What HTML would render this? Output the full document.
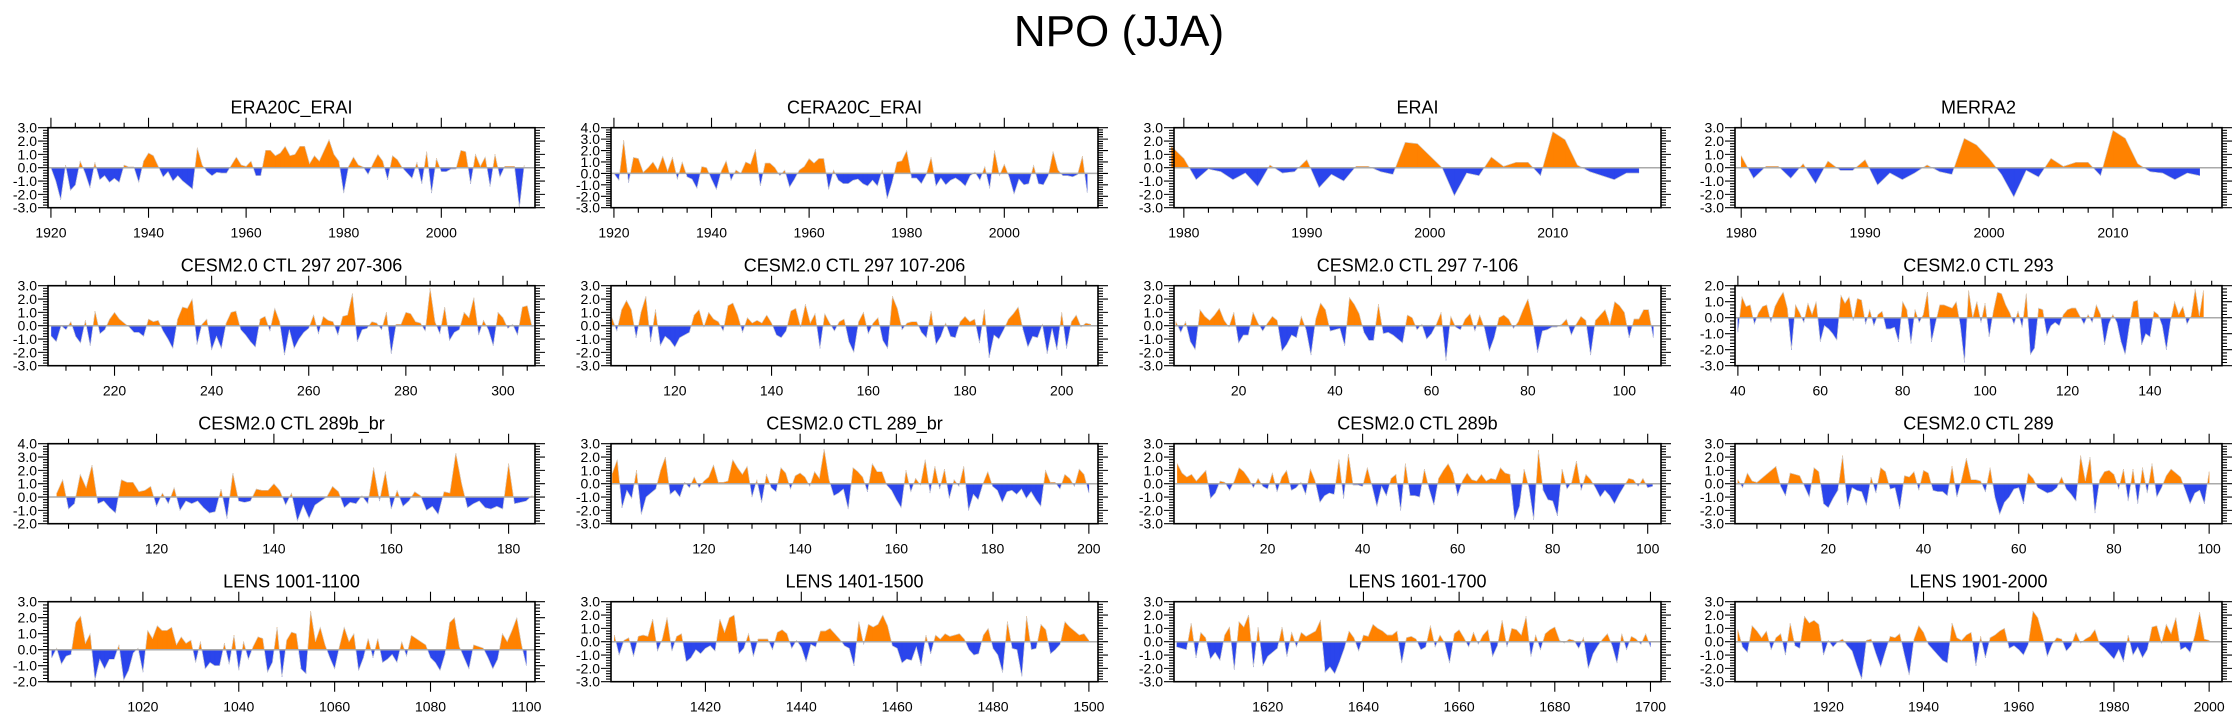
<!DOCTYPE html>
<html><head><meta charset="utf-8"><style>
html,body{margin:0;padding:0;background:#fff;}
svg{display:block;font-family:"Liberation Sans",Arial,sans-serif;}
</style></head><body>
<svg id="chart" width="2238" height="719" viewBox="0 0 2238 719" xmlns="http://www.w3.org/2000/svg">
<rect width="2238" height="719" fill="#fff"/>
<text x="1119" y="46" text-anchor="middle" font-size="44">NPO (JJA)</text>
</svg>
<script>
// ---- data ----
const titles = ["ERA20C_ERAI","CERA20C_ERAI","ERAI","MERRA2",
"CESM2.0 CTL 297 207-306","CESM2.0 CTL 297 107-206","CESM2.0 CTL 297 7-106","CESM2.0 CTL 293",
"CESM2.0 CTL 289b_br","CESM2.0 CTL 289_br","CESM2.0 CTL 289b","CESM2.0 CTL 289",
"LENS 1001-1100","LENS 1401-1500","LENS 1601-1700","LENS 1901-2000"];
const startYears = [1920,1920,1979,1980,207,107,7,40,103,101,1,1,1001,1401,1601,1901];
const yMins = [-3,-3,-3,-3,-3,-3,-3,-3,-2,-3,-3,-3,-2,-3,-3,-3];
const yMaxs = [3,4,3,3,3,3,3,2,4,3,3,3,3,3,3,3];
const xMins = [1919.4,1919.4,1979.2,1979.5,206.3,106.8,6.6,39.3,101.5,100.7,0.3,0.4,1000.2,1400.3,1600.4,1900.4];
const xMaxs = [2019.2,2019.2,2018.8,2018.8,306.6,207.5,107.6,157.5,184.5,201.9,102.8,102.7,1101.8,1501.9,1702.2,2002.7];
const xLabels = [
[1920,1940,1960,1980,2000],[1920,1940,1960,1980,2000],[1980,1990,2000,2010],[1980,1990,2000,2010],
[220,240,260,280,300],[120,140,160,180,200],[20,40,60,80,100],[40,60,80,100,120,140],
[120,140,160,180],[120,140,160,180,200],[20,40,60,80,100],[20,40,60,80,100],
[1020,1040,1060,1080,1100],[1420,1440,1460,1480,1500],[1620,1640,1660,1680,1700],[1920,1940,1960,1980,2000]];
const xMinorSteps = [5,5,2,2,5,5,5,5,5,5,5,5,5,5,5,5];

const sEra20c = [0,-1.0,-2.4,0.2,-1.7,-1.3,0.5,-0.4,-1.5,0.4,-0.9,-0.6,-1.1,-0.8,-1.1,0.2,0.05,0.05,-1.1,0.5,1.1,0.9,0.1,-0.7,-0.3,-1.0,-0.6,-1.0,-1.3,-1.6,1.5,0.2,-0.3,-0.6,-0.35,-0.4,-0.4,0.2,0.8,0.2,0.1,0.5,-0.6,-0.6,1.3,1.3,0.9,1.1,1.6,0.9,1.0,1.6,1.6,0.3,0.9,0.5,1.3,2.1,1.0,0.5,-1.9,0.1,0.8,0.2,0.05,-0.5,0.3,1.0,0.5,-0.9,0.9,0.6,0.0,-0.4,-0.8,0.4,-1.2,1.2,-1.9,0.7,-0.3,-0.3,-0.1,-0.1,1.3,1.2,-1.2,1.0,0.1,0.8,-1.4,1.0,-0.7,0.1,0.1,0.1,-3.0,0.2];
const sCera20c = [0,-0.6,2.9,-0.8,1.4,1.3,0.1,0.5,1.0,0.3,1.5,0.2,1.4,-0.5,1.0,-0.3,-0.5,-1.3,0.6,0.5,-0.5,-1.4,0.2,1.1,-0.6,0.3,0.0,1.0,0.8,2.1,-1.1,0.9,0.9,0.5,-0.2,0.3,-1.2,-0.5,0.3,0.6,1.3,0.9,1.3,1.3,-1.4,0.3,-0.6,-0.9,-0.9,-0.6,-0.5,-0.9,-1.1,-0.6,-1.1,0.3,-2.2,-0.8,1.0,1.1,2.0,-0.4,-0.4,-0.9,-0.1,1.4,-1.1,-0.4,-1.0,-0.6,-0.4,-0.7,-1.1,-0.2,0.1,-0.6,0.6,-1.3,2.0,-0.2,0.8,-0.3,-1.8,-0.5,-1.0,-0.9,0.7,-0.9,-1.0,-0.2,1.9,0.3,-0.2,-0.2,-0.3,-0.1,1.5,-1.7];
const sErai = [1.6,0.7,-0.9,-0.1,-0.3,-0.9,-0.4,-1.4,0.2,-0.4,-0.3,0.6,-1.5,-0.5,-1.0,0.1,0.1,-0.3,-0.5,1.9,1.8,0.9,0.0,-2.1,-0.4,-0.6,0.8,0.1,0.4,0.4,-0.6,2.7,2.1,0.2,-0.3,-0.6,-0.9,-0.4,-0.4];
const sMerra2 = [0.9,-0.8,0.1,0.1,-0.8,0.3,-1.2,0.5,-0.2,-0.2,0.6,-1.3,-0.4,-0.9,-0.4,0.2,-0.3,-0.5,2.2,1.7,0.7,-0.5,-2.2,-0.2,-0.7,0.7,0.1,0.4,0.4,-0.6,2.8,2.2,0.3,-0.3,-0.4,-0.9,-0.4,-0.6];
const sCtl297a = [-0.8,-1.2,0.0,-0.3,0.3,-0.8,-1.3,0.4,-1.5,1.1,-0.6,-0.3,0.5,1.0,0.5,0.2,-0.1,-0.5,-0.5,-0.8,0.5,0.3,0.4,-0.4,-1.0,-1.7,0.5,1.4,1.3,2.0,-1.4,0.1,0.5,-1.8,-0.8,-1.7,0.2,1.0,1.1,-0.3,-0.7,-1.2,-1.6,0.5,0.7,-0.4,1.3,0.3,-2.2,-0.3,-1.7,-1.0,-0.5,-0.2,0.8,-0.6,0.7,0.4,0.3,-0.7,0.7,0.8,2.4,-1.2,-0.3,-0.2,0.3,0.2,-0.3,1.0,-2.1,0.1,0.1,1.0,0.9,0.3,0.2,-0.4,2.8,0.3,-0.6,1.4,-1.1,-0.5,-0.3,1.0,0.6,2.1,-0.7,0.4,-0.3,-1.5,1.0,0.6,-0.2,0.1,-0.7,1.4,1.5,-0.1];
const sCtl297b = [0.6,-0.4,1.2,1.9,1.2,-0.9,1.0,2.2,-1.2,1.2,-1.5,-0.8,-1.1,-1.6,-0.9,-0.7,-0.5,0.8,1.2,-0.1,1.0,0.5,0.3,-0.4,1.5,1.7,0.8,-0.5,0.6,0.2,0.4,0.2,0.8,0.2,-0.7,-0.9,-0.4,1.1,1.3,-0.1,1.6,0.2,0.9,-1.7,0.9,0.2,-0.4,0.3,0.5,-1.2,-2.0,0.3,1.0,-0.6,0.2,0.6,-1.1,-1.7,2.2,1.3,-0.3,0.2,0.3,0.3,-0.5,-0.9,1.1,-1.4,-0.8,0.2,-0.8,-0.9,0.3,0.7,0.3,0.5,-1.3,1.2,-2.4,-0.7,-1.0,-0.3,0.5,0.9,1.4,-0.3,-1.6,-0.8,-0.9,0.1,-2.1,-0.2,-1.8,1.0,-1.7,0.3,0.8,-0.1,0.2,0.1];
const sCtl297c = [0.3,-0.5,0.3,-1.2,-1.8,1.2,0.7,0.4,0.8,1.3,0.4,-0.1,1.0,-1.3,-0.7,-0.7,1.0,0.2,-0.4,0.2,0.7,0.4,-1.9,-1.4,-0.7,-0.9,0.7,-0.3,-2.2,0.5,1.7,1.2,-0.4,-0.3,-0.2,-1.5,2.1,1.6,0.9,-0.5,-1.1,-1.1,1.6,-0.6,-0.5,-0.7,-1.0,-1.3,0.8,0.6,-0.3,0.1,-1.0,-0.6,0.1,1.0,-2.6,0.7,-0.1,-0.3,0.5,0.9,-0.4,0.8,-0.2,-1.9,-0.9,0.6,0.8,0.5,-0.2,0.3,1.2,2.0,0.4,-2.0,-0.4,-0.3,-0.1,-0.1,0.1,0.5,-0.7,0.1,0.7,0.4,-2.2,0.4,0.8,1.2,0.1,1.8,1.5,1.0,-0.9,0.5,0.5,1.2,1.2,-0.9];
const sCtl293 = [-0.9,1.3,0.7,0.8,-0.4,0.3,0.7,0.8,-0.3,0.7,1.2,1.6,0.6,-2.0,0.8,0.3,-0.3,0.9,0.2,1.0,-1.5,-0.5,-0.7,-1.0,-1.4,1.4,0.9,1.3,-0.2,1.2,1.1,-0.4,0.5,-0.5,0.2,0.4,-0.7,-0.7,-0.6,-1.5,1.0,0.5,-1.6,0.5,-0.3,0.2,1.6,-1.5,-0.3,0.8,0.8,0.7,0.6,1.0,-0.5,-2.8,1.7,0.0,1.0,-0.3,0.9,-1.2,0.4,1.6,1.5,0.8,0.3,-0.4,0.4,-0.6,1.5,-2.3,-1.9,0.6,0.5,-1.1,-0.5,-0.3,-0.5,0.2,0.5,0.6,0.6,0.1,-0.4,0.2,-0.3,0.8,0.2,-1.7,-0.4,0.2,-0.3,-1.5,-2.3,-0.5,1.0,1.1,-1.7,-1.0,-1.2,0.4,0.2,-0.5,-2.0,-0.2,1.0,0.2,0.7,-0.4,0.1,1.8,0.1,1.7];
const sCtl289bbr = [0.3,1.3,-0.9,-0.5,1.7,0.7,2.4,-0.5,-0.3,-0.8,-1.2,1.3,1.1,1.1,0.4,0.5,0.8,-0.7,0.3,-0.5,0.7,-1.0,-0.3,-0.5,-0.3,-0.8,-1.2,-1.1,0.6,-1.6,1.8,-0.3,-0.4,-0.3,0.6,0.5,0.5,1.0,0.5,-0.6,0.3,-1.8,-0.6,-1.6,-0.6,-0.3,0.0,0.8,0.4,-0.8,-0.4,-0.5,0.1,-0.5,2.2,-0.3,1.9,-0.9,0.5,-0.7,-0.3,0.4,0.1,-1.0,-0.7,-1.3,0.4,0.3,3.3,1.0,-0.8,-0.5,-0.3,-0.8,-0.9,-0.7,-0.9,2.5,-0.5,-0.4,-0.3,0.1];
const sCtl289br = [0.8,1.8,-1.8,-0.5,-1.1,1.0,-2.3,-1.0,-0.7,-0.4,1.0,2.0,-0.8,-0.5,-1.0,0.1,-0.3,0.5,-0.3,0.2,0.5,1.4,0.1,0.1,0.2,1.8,1.2,0.7,1.3,-1.0,0.3,-1.4,0.7,-0.3,-0.6,1.2,0.8,-0.4,0.6,0.8,0.5,-0.2,0.9,0.4,2.6,0.3,-0.9,-0.7,-0.4,-1.9,1.2,0.9,0.5,-0.6,1.5,0.9,0.9,-0.1,-0.5,-1.2,-1.8,1.0,-0.6,0.4,-0.1,1.8,-0.7,1.3,-0.4,1.1,-1.1,0.3,-0.2,1.3,-2.0,-0.8,-1.2,0.0,0.9,-0.2,-0.5,-1.4,-0.6,-0.5,-0.8,-0.4,-1.1,-0.6,-1.2,-1.7,1.0,0.1,0.1,-0.4,0.7,0.4,-0.2,1.1,0.7,-0.7];
const sCtl289b = [1.5,0.8,0.5,0.7,0.2,0.6,1.0,-1.1,-0.7,0.2,0.1,-0.5,0.2,1.2,0.9,0.4,-0.3,0.4,-0.2,-0.4,0.8,-0.6,0.5,1.0,-0.5,-0.3,0.1,-0.8,1.1,0.2,-1.4,-0.9,-0.7,-0.8,1.8,-1.1,2.2,-0.1,-0.1,-0.2,1.2,-0.2,-1.7,-0.2,-0.9,0.4,0.7,-2.0,1.5,-0.9,-0.9,-1.0,1.1,-0.4,-1.6,0.4,1.0,1.5,0.8,-0.9,0.2,0.8,0.3,0.2,0.7,0.2,0.4,0.3,1.2,0.8,0.7,-2.7,-1.7,1.1,-0.3,-2.7,2.5,-0.5,-1.2,-1.3,-2.4,1.1,-0.4,0.1,1.7,-0.5,0.7,0.3,-0.3,-1.0,-0.5,-0.9,-1.5,-0.8,-0.2,0.4,0.3,-0.2,0.4,-0.3,-0.2];
const sCtl289 = [0.3,-0.3,0.8,0.2,0.1,0.4,0.7,1.0,1.3,-0.2,-0.9,0.8,0.7,0.6,-0.2,-1.0,1.2,0.9,-1.5,-1.8,-1.1,-0.5,2.1,-1.6,-0.3,-0.5,-0.6,-1.6,0.5,-0.7,1.2,0.9,-0.4,-0.3,-1.9,0.6,0.5,0.9,-0.5,1.0,0.8,-0.5,-0.6,-0.6,-0.9,1.3,-1.0,0.3,1.9,0.3,0.3,0.2,-0.6,1.2,-1.0,-2.3,-1.4,-1.0,-0.4,-0.3,-1.5,0.8,0.4,-0.3,-0.5,-0.7,-0.6,-0.3,0.5,-0.4,-0.8,-1.3,2.1,0.2,2.0,-2.2,0.3,0.9,1.0,0.7,-0.4,1.1,-1.3,1.1,-1.5,1.2,-0.7,1.5,-1.0,-0.3,0.6,1.1,0.8,0.5,-0.5,-1.5,-0.7,-0.5,-1.5,0.9];
const sLens1001 = [-0.5,0.1,-0.9,-0.4,-0.3,1.7,2.1,0.4,1.0,-1.9,-0.6,-1.2,-0.6,-0.6,0.3,-1.9,-1.3,-0.2,0.1,-1.4,1.2,0.7,1.5,1.2,1.2,1.4,0.3,0.8,0.4,0.6,-0.8,0.5,-1.2,-0.8,-1.0,-1.0,0.4,-0.9,0.9,-1.3,0.5,-0.6,0.2,0.8,0.7,-1.4,-0.8,1.4,-1.7,0.6,1.1,1.0,-1.2,-1.5,2.4,0.5,1.4,0.3,-0.5,-1.2,0.2,1.4,0.5,1.0,-1.3,-0.5,0.7,-0.5,0.7,-0.8,-0.6,-0.3,-0.8,0.5,-0.4,0.9,0.7,0.5,0.3,-0.5,-0.8,-1.3,-0.3,1.7,2.0,0.2,-0.5,-1.2,0.3,0.2,0.1,-0.5,-1.2,-0.6,1.0,0.5,1.2,2.0,0.3,-1.0];
const sLens1401 = [0.5,-1.0,0.1,0.3,-1.1,0.4,0.5,0.4,1.7,-0.7,0.2,1.8,-0.7,0.4,0.6,-1.5,-1.2,-0.6,-0.9,-0.5,-0.3,-0.7,1.7,0.7,1.8,2.0,-0.9,-0.5,0.6,-1.1,0.2,0.2,0.2,-0.6,0.7,0.9,0.6,-0.5,0.1,-0.4,-1.5,-0.2,-0.4,0.8,0.8,1.0,0.6,0.2,-0.3,-0.5,-1.8,1.5,-0.2,1.3,1.1,1.3,2.0,1.2,-0.3,-0.5,-1.6,-1.3,-1.4,-0.4,-1.8,0.5,-0.9,0.5,0.2,0.6,0.4,0.5,0.6,0.2,-0.6,-1.0,-0.9,0.5,1.0,-0.5,-1.0,-2.3,1.5,-0.5,-0.6,-2.6,1.9,-0.6,-0.5,1.3,0.9,-0.9,-0.6,-0.2,1.5,1.1,0.8,0.5,0.6,0.1];
const sLens1601 = [-0.4,-0.5,-0.6,1.4,-1.2,0.7,0.3,-1.3,-0.8,-1.4,0.5,1.1,-2.1,1.5,1.1,2.0,-1.9,1.1,-1.8,-1.1,-0.8,-0.5,1.1,-1.1,0.7,-0.4,0.7,0.4,0.6,0.8,1.6,-2.3,-1.9,-2.4,-1.5,-0.5,0.8,0.3,-0.7,0.5,0.4,1.3,1.0,0.8,0.5,0.5,0.8,-1.6,0.3,0.4,0.2,-0.6,-0.4,1.2,-0.4,0.5,-0.1,-1.6,0.6,0.9,0.3,-0.4,0.7,-0.2,0.5,0.9,-1.1,-0.3,1.6,-0.4,1.0,0.9,0.5,1.9,-1.1,0.5,-0.6,0.6,0.9,1.1,0.1,-0.1,0.2,0.1,-0.5,0.3,-2.0,-0.9,-0.3,0.2,0.6,-0.3,-1.6,0.6,-0.6,0.4,0.2,-0.2,0.6,-0.4];
const sLens1901 = [0.9,-0.4,-0.8,1.2,0.8,0.3,0.8,-0.6,0.3,0.6,-1.0,1.4,-0.3,-0.5,1.9,1.4,1.6,1.3,-1.0,0.1,-0.4,0.0,0.2,-0.3,-0.7,-1.8,-2.8,0.1,0.2,-0.9,-1.9,-0.7,0.4,0.3,0.6,-1.0,-2.5,0.2,1.2,0.7,-0.2,-0.6,-1.0,-1.4,-1.6,1.4,0.3,0.1,0.5,0.7,-1.8,0.4,-1.2,0.3,0.5,0.8,1.0,-0.5,-0.3,-0.6,-1.0,-0.2,2.3,1.8,0.5,-1.1,-0.2,0.3,0.2,-0.7,-0.3,0.7,-0.1,0.2,0.4,0.9,-0.2,-0.5,-0.9,-1.3,-0.6,-1.5,0.5,-1.0,-0.4,-1.2,-0.6,1.1,1.2,-0.1,1.3,0.6,1.8,-0.6,-0.4,-0.8,0.5,2.2,0.2,0.1];
const seriesList = [sEra20c,sCera20c,sErai,sMerra2,sCtl297a,sCtl297b,sCtl297c,sCtl293,sCtl289bbr,sCtl289br,sCtl289b,sCtl289,sLens1001,sLens1401,sLens1601,sLens1901];

// ---- layout ----
const NS = "http://www.w3.org/2000/svg";
const svg = document.getElementById('chart');
const colLeft = [48, 611, 1174, 1735];
const rowTop = [127.7, 285.7, 443.7, 601.7];
const PW = 487, PH = 80;
const ORANGE = "#FF8200", BLUE = "#2B45EC";

function mk(tag, attrs, parent){
  const e = document.createElementNS(NS, tag);
  for (const k in attrs) e.setAttribute(k, attrs[k]);
  (parent||svg).appendChild(e);
  return e;
}

for (let p = 0; p < 16; p++) {
  const L = colLeft[p % 4], T = rowTop[Math.floor(p / 4)];
  const x0 = xMins[p], x1 = xMaxs[p], y0 = yMins[p], y1 = yMaxs[p];
  const xs = v => L + (v - x0) / (x1 - x0) * PW;
  const ys = v => T + PH - (v - y0) / (y1 - y0) * PH;
  const g = mk('g', {});
  
  

  const t = mk('text', {x: L + PW / 2, y: T - 14, 'text-anchor': 'middle', 'font-size': 18}, g);
  t.textContent = titles[p];
  
  

  // fills
  const data = seriesList[p], start = startYears[p];
  const pts = data.map((v, i) => [start + i, v]);
  let posD = '', negD = '';
  const zy = ys(0);
  for (let i = 0; i < pts.length - 1; i++) {
    const [ax, av] = pts[i], [bx, bv] = pts[i + 1];
    const segs = [];
    if ((av >= 0) === (bv >= 0)) segs.push([ax, av, bx, bv]);
    else { const cx = ax + av / (av - bv) * (bx - ax); segs.push([ax, av, cx, 0]); segs.push([cx, 0, bx, bv]); }
    for (const [sx, sv, ex, ev] of segs) {
      const d = `M${xs(sx).toFixed(2)},${zy.toFixed(2)}L${xs(sx).toFixed(2)},${ys(sv).toFixed(2)}L${xs(ex).toFixed(2)},${ys(ev).toFixed(2)}L${xs(ex).toFixed(2)},${zy.toFixed(2)}Z`;
      if (sv + ev >= 0) posD += d; else negD += d;
    }
  }
  const pos = mk('path', {d: posD, fill: ORANGE, stroke: ORANGE, 'stroke-width': 0.4}, g);
  
  
  const neg = mk('path', {d: negD, fill: BLUE, stroke: BLUE, 'stroke-width': 0.4}, g);
  
  
  const line = mk('polyline', {points: pts.map(q => xs(q[0]).toFixed(2) + ',' + ys(q[1]).toFixed(2)).join(' '), fill: 'none', stroke: '#d0d0d0', 'stroke-width': 0.6}, g);
  
  
  const zl = mk('line', {x1: L, x2: L + PW, y1: zy, y2: zy, stroke: '#aaaaaa', 'stroke-width': 1.5}, g);
  
  

  // frame
  const fr = mk('rect', {x: L, y: T, width: PW, height: PH, fill: 'none', stroke: '#000', 'stroke-width': 1.6}, g);
  
  

  // y ticks
  let tickD = '';
  for (let k = 0; Math.round(y0 * 5) + k <= Math.round(y1 * 5); k++) {
    const v = y0 + k * 0.2, yy = ys(v);
    const major = Math.abs(v - Math.round(v)) < 1e-6;
    const len = major ? 10 : 5;
    tickD += `M${L},${yy}h${-len}M${L + PW},${yy}h${len}`;
    if (major) {
      const lb = mk('text', {x: L - 11, y: yy + 5, 'text-anchor': 'end', 'font-size': 14}, g);
      lb.textContent = Math.round(v).toFixed(1);
      
      
    }
  }
  // x ticks
  const ms = xMinorSteps[p];
  for (let v = Math.ceil(x0 / ms) * ms; v <= x1; v += ms) {
    const xx = xs(v);
    const major = xLabels[p].includes(v) || v % (ms === 2 ? 10 : 20) === 0;
    const len = major ? 10 : 5;
    tickD += `M${xx},${T}v${-len}M${xx},${T + PH}v${len}`;
  }
  const tk = mk('path', {d: tickD, stroke: '#000', 'stroke-width': 1.1, fill: 'none'}, g);
  
  
  for (const v of xLabels[p]) {
    const lb = mk('text', {x: xs(v), y: T + PH + 30, 'text-anchor': 'middle', 'font-size': 14}, g);
    lb.textContent = String(v);
    
    
  }
}
</script>
</body></html>
